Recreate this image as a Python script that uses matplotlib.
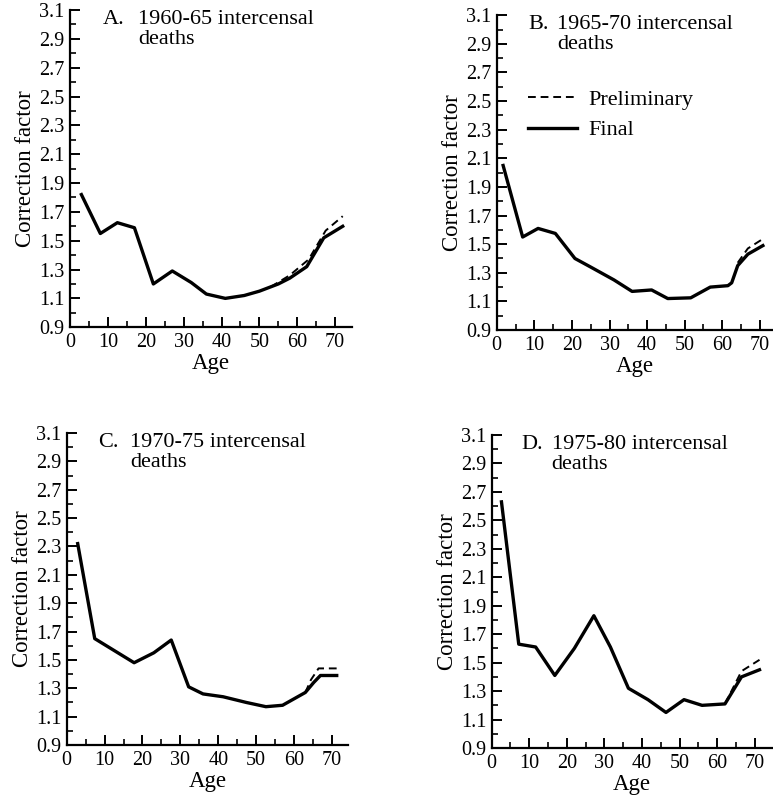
import matplotlib
matplotlib.use("Agg")
import matplotlib.pyplot as plt
from matplotlib.ticker import MultipleLocator, FixedLocator

plt.rcParams['font.family'] = ['Liberation Serif', 'DejaVu Serif']

# panel titles
labels = ["A.", "B.", "C.", "D."]
periods = ["1960-65 intercensal\ndeaths", "1965-70 intercensal\ndeaths",
           "1970-75 intercensal\ndeaths", "1975-80 intercensal\ndeaths"]

# A. 1960-65
age_a = [3, 8, 12.5, 17, 22, 27, 32, 36, 41, 46, 50, 55, 58, 62.5, 67, 72]
final_a = [1.82, 1.55, 1.625, 1.59, 1.20, 1.29, 1.21, 1.13, 1.10, 1.12, 1.15, 1.20, 1.24, 1.32, 1.52, 1.60]
age_pa = [53, 58, 63, 67.5, 72]
prelim_a = [1.18, 1.26, 1.37, 1.57, 1.67]

# B. 1965-70
age_b = [1.7, 6.9, 11, 15.6, 20.8, 25, 31.2, 36, 41.2, 45.5, 51.6, 56.8, 61.5, 62.5, 64.1, 66.8, 70.8]
final_b = [2.05, 1.55, 1.61, 1.575, 1.40, 1.34, 1.25, 1.17, 1.18, 1.12, 1.125, 1.20, 1.21, 1.23, 1.35, 1.43, 1.49]
age_pb = [64.1, 66.8, 71]
prelim_b = [1.37, 1.47, 1.54]

# C. 1970-75
age_c = [2.9, 7.4, 17.8, 23, 27.6, 32.2, 36, 41.3, 47.4, 52.6, 57, 63, 65.2, 67, 71.3]
final_c = [2.32, 1.65, 1.48, 1.55, 1.64, 1.31, 1.26, 1.24, 1.20, 1.17, 1.18, 1.27, 1.34, 1.39, 1.39]
age_pc = [63, 64.5, 66.5, 71.3]
prelim_c = [1.27, 1.36, 1.44, 1.44]

# D. 1975-80
age_d = [2.6, 7.2, 11.7, 16.8, 22, 27.2, 31.6, 36.4, 41.6, 46.4, 51.2, 56, 62.1, 66.5, 71.3]
final_d = [2.63, 1.63, 1.61, 1.41, 1.60, 1.83, 1.61, 1.32, 1.24, 1.15, 1.24, 1.20, 1.21, 1.40, 1.45]
age_pd = [62.1, 66.5, 71.3]
prelim_d = [1.21, 1.44, 1.52]

finals = [(age_a, final_a), (age_b, final_b), (age_c, final_c), (age_d, final_d)]
prelims = [(age_pa, prelim_a), (age_pb, prelim_b), (age_pc, prelim_c), (age_pd, prelim_d)]

# axes boxes in figure fraction and x upper limits
boxes = [[0.0906, 0.592, 0.365, 0.3955],
         [0.6426, 0.5885, 0.356, 0.3925],
         [0.0863, 0.0711, 0.364, 0.389],
         [0.6361, 0.0673, 0.362, 0.3903]]
xmax = [74.5, 73.2, 74.3, 74.5]
text_x = [(0.117, 0.241), (0.114, 0.219), (0.111, 0.225), (0.107, 0.214)]

fig = plt.figure(figsize=(7.73, 8.02), dpi=100)

for i in range(4):
    ax = fig.add_axes(boxes[i])
    ax.plot(prelims[i][0], prelims[i][1], color='black', lw=1.4, ls=(0, (4, 2.5)),
            label='Preliminary')
    ax.plot(finals[i][0], finals[i][1], color='black', lw=2.4, label='Final',
            solid_joinstyle='round')
    ax.set_xlim(0, xmax[i])
    ax.set_ylim(0.9, 3.1)
    ax.spines['top'].set_visible(False)
    ax.spines['right'].set_visible(False)
    ax.spines['left'].set_linewidth(1.6)
    ax.spines['bottom'].set_linewidth(1.6)
    ax.xaxis.set_major_locator(FixedLocator([0, 10, 20, 30, 40, 50, 60, 70]))
    ax.xaxis.set_minor_locator(MultipleLocator(5))
    ax.yaxis.set_minor_locator(MultipleLocator(0.1))
    ax.set_yticks([0.9 + 0.2 * k for k in range(12)])
    ax.set_yticklabels(["%.1f" % (0.9 + 0.2 * k) for k in range(12)])
    ax.tick_params(which='major', direction='in', length=7, width=1.4, labelsize=14.5, pad=4)
    ax.tick_params(which='minor', direction='in', length=4, width=1.2)
    ax.set_xlabel('Age', fontsize=16.5, labelpad=1)
    ax.set_ylabel('Correction factor', fontsize=16.5, labelpad=2)
    ax.text(text_x[i][0], 1.0, labels[i], transform=ax.transAxes, fontsize=16,
            va='top', ha='left', linespacing=1.05)
    ax.text(text_x[i][1], 1.0, periods[i], transform=ax.transAxes, fontsize=16,
            va='top', ha='left', linespacing=1.05)
    if i == 1:
        ax.legend(loc='upper left', bbox_to_anchor=(0.115, 0.765), frameon=False,
                  fontsize=16, handlelength=2.2, handletextpad=0.5, borderpad=0,
                  borderaxespad=0, labelspacing=0.45)

fig.savefig('out.png', dpi=100)
plt.close(fig)
